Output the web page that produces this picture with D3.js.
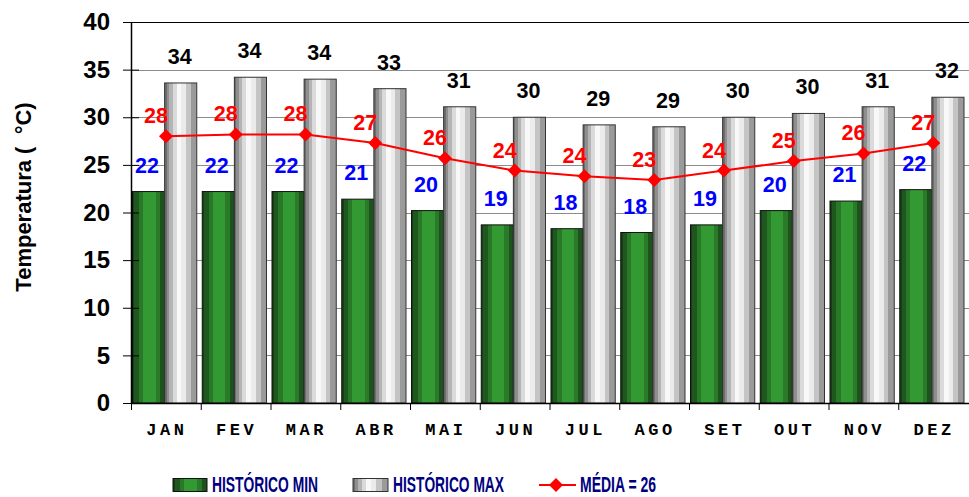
<!DOCTYPE html>
<html>
<head>
<meta charset="utf-8">
<script src="https://cdn.jsdelivr.net/npm/d3@7"></script>
<style>
  html, body { margin: 0; padding: 0; background: #fff; }
  svg { display: block; }
</style>
</head>
<body>
<script>
// Monthly temperatures (°C)
const months = ["JAN", "FEV", "MAR", "ABR", "MAI", "JUN", "JUL", "AGO", "SET", "OUT", "NOV", "DEZ"];
const minValues = [22.2, 22.2, 22.2, 21.4, 20.2, 18.7, 18.3, 17.9, 18.7, 20.2, 21.2, 22.4];
const maxValues = [33.6, 34.2, 34.0, 33.0, 31.1, 30.0, 29.2, 29.0, 30.0, 30.4, 31.1, 32.1];
const meanValues = [28.0, 28.2, 28.2, 27.3, 25.7, 24.4, 23.8, 23.4, 24.4, 25.4, 26.2, 27.3];
const yTicks = [0, 5, 10, 15, 20, 25, 30, 35, 40];
const seriesNames = ["HISTÓRICO MIN", "HISTÓRICO MAX", "MÉDIA"];

const W = 969, H = 497;
const plot = { left: 131, right: 969, top: 22, bottom: 403 };

const svg = d3.select("body").append("svg")
  .attr("width", W).attr("height", H);

// Stepped "cylinder" gradients for the bars
const defs = svg.append("defs");
function steppedGradient(id, bands) {
  const g = defs.append("linearGradient").attr("id", id)
    .attr("x1", "0%").attr("x2", "100%").attr("y1", "0%").attr("y2", "0%");
  bands.forEach(([from, to, color]) => {
    g.append("stop").attr("offset", from).attr("stop-color", color);
    g.append("stop").attr("offset", to).attr("stop-color", color);
  });
}
steppedGradient("gMin", [
  [0.00, 0.06, "#163f16"],
  [0.06, 0.20, "#1e581e"],
  [0.20, 0.33, "#287828"],
  [0.33, 0.72, "#339933"],
  [0.72, 0.85, "#2a7a2a"],
  [0.85, 1.00, "#1d531d"]
]);
steppedGradient("gMax", [
  [0.00, 0.06, "#6e6e6e"],
  [0.06, 0.15, "#8e8e8e"],
  [0.15, 0.25, "#b4b4b4"],
  [0.25, 0.37, "#dadada"],
  [0.37, 0.52, "#f8f8f8"],
  [0.52, 0.67, "#ebebeb"],
  [0.67, 0.82, "#c4c4c4"],
  [0.82, 1.00, "#9a9a9a"]
]);

const x = d3.scaleBand().domain(months).range([plot.left, plot.right - 1]).padding(0);
const y = d3.scaleLinear().domain([0, 40]).range([plot.bottom, plot.top]);
const sub = d3.scaleBand().domain(["min", "max"])
  .range([1.5, x.bandwidth() - 4]).padding(0);

// Horizontal grid
svg.append("g").selectAll("line").data(yTicks.filter(t => t > 0)).join("line")
  .attr("x1", plot.left).attr("x2", plot.right)
  .attr("y1", d => Math.round(y(d)) + 0.5).attr("y2", d => Math.round(y(d)) + 0.5)
  .attr("stroke", d => d === 40 ? "#000" : "#8c8c8c").attr("stroke-width", 1);

// Bars
const groups = svg.append("g").selectAll("g").data(months).join("g")
  .attr("transform", d => `translate(${x(d)},0)`);

groups.append("rect")
  .attr("x", sub("min")).attr("width", sub.bandwidth())
  .attr("y", (d, i) => y(minValues[i]))
  .attr("height", (d, i) => y(0) - y(minValues[i]))
  .attr("fill", "url(#gMin)").attr("stroke", "#111").attr("stroke-width", 1);

groups.append("rect")
  .attr("x", sub("max")).attr("width", sub.bandwidth())
  .attr("y", (d, i) => y(maxValues[i]))
  .attr("height", (d, i) => y(0) - y(maxValues[i]))
  .attr("fill", "url(#gMax)").attr("stroke", "#333").attr("stroke-width", 1);

// Axes
const yAxis = svg.append("g").attr("transform", `translate(${plot.left},0)`)
  .call(d3.axisLeft(y).tickValues(yTicks).tickSize(8).tickPadding(13).tickFormat(d3.format("d")));
yAxis.select(".domain").remove();
yAxis.selectAll(".tick line").attr("x2", 8).attr("x1", -8).attr("stroke", "#000");
yAxis.selectAll("text")
  .attr("font-family", "Liberation Sans, Arial, sans-serif")
  .attr("font-weight", "bold").attr("font-size", 24).attr("fill", "#000");
svg.append("line").attr("x1", plot.left + 0.5).attr("x2", plot.left + 0.5)
  .attr("y1", plot.top).attr("y2", plot.bottom).attr("stroke", "#000").attr("stroke-width", 1.5);

svg.append("line").attr("x1", plot.left).attr("x2", plot.right)
  .attr("y1", plot.bottom + 0.5).attr("y2", plot.bottom + 0.5)
  .attr("stroke", "#000").attr("stroke-width", 1.5);

// Category ticks at band boundaries
svg.append("g").selectAll("line").data(months).join("line")
  .attr("x1", d => x(d) + 0.5).attr("x2", d => x(d) + 0.5)
  .attr("y1", plot.bottom).attr("y2", plot.bottom + 7)
  .attr("stroke", "#000");

// Month labels
svg.append("g").selectAll("text").data(months).join("text")
  .attr("x", d => x(d) + x.bandwidth() / 2 + 1)
  .attr("y", 435)
  .attr("text-anchor", "middle")
  .attr("font-family", "Liberation Mono, Courier New, monospace")
  .attr("font-weight", "bold").attr("font-size", 17)
  .attr("letter-spacing", 3.5)
  .text(d => d);

// Y-axis title
svg.append("text")
  .attr("transform", "translate(31,197) rotate(-90)")
  .attr("text-anchor", "middle")
  .attr("font-family", "Liberation Sans, Arial, sans-serif")
  .attr("font-weight", "bold").attr("font-size", 22)
  .attr("xml:space", "preserve")
  .text("Temperatura (  °C)");

// Mean line
const meanX = d => x(d) + 35;
svg.append("path")
  .datum(months)
  .attr("d", d3.line().x(meanX).y((d, i) => y(meanValues[i])))
  .attr("fill", "none").attr("stroke", "#ff0000").attr("stroke-width", 2);

// Square diamond marker
const diamond = "M0,-7L7,0L0,7L-7,0Z";
svg.append("g").selectAll("path").data(months).join("path")
  .attr("transform", (d, i) => `translate(${meanX(d)},${y(meanValues[i])})`)
  .attr("d", diamond).attr("fill", "#ff0000");

// Value labels
const fmt = d3.format(".0f");
const labelFont = sel => sel
  .attr("font-family", "Liberation Sans, Arial, sans-serif")
  .attr("font-weight", "bold").attr("font-size", 21.5)
  .attr("text-anchor", "middle");

svg.append("g").selectAll("text").data(months).join("text")
  .call(labelFont)
  .attr("x", d => x(d) + sub("max") + sub.bandwidth() / 2 - 1)
  .attr("y", (d, i) => y(maxValues[i]) - 19)
  .attr("fill", "#000")
  .text((d, i) => fmt(maxValues[i]));

svg.append("g").selectAll("text").data(months).join("text")
  .call(labelFont)
  .attr("x", d => x(d) + sub("min") + sub.bandwidth() / 2 - 1.5)
  .attr("y", (d, i) => y(minValues[i]) - 19)
  .attr("fill", "#0000ff")
  .text((d, i) => fmt(minValues[i]));

svg.append("g").selectAll("text").data(months).join("text")
  .call(labelFont)
  .attr("x", d => meanX(d) - 10)
  .attr("y", (d, i) => y(meanValues[i]) - 13)
  .attr("fill", "#ff0000")
  .text((d, i) => fmt(meanValues[i]));

// Legend
const legend = svg.append("g");
const legendText = (xPos, txt, len) => legend.append("text")
  .attr("x", xPos).attr("y", 492)
  .attr("font-family", "Liberation Sans Narrow, Arial Narrow, Liberation Sans, Arial, sans-serif")
  .attr("font-weight", "bold").attr("font-size", 22)
  .attr("fill", "#000080")
  .attr("textLength", len).attr("lengthAdjust", "spacingAndGlyphs")
  .text(txt);

legend.append("rect").attr("x", 173).attr("y", 478.5).attr("width", 34).attr("height", 13)
  .attr("fill", "url(#gMin)").attr("stroke", "#111");
legendText(212, seriesNames[0], 106);

legend.append("rect").attr("x", 353).attr("y", 478.5).attr("width", 35).attr("height", 13)
  .attr("fill", "url(#gMax)").attr("stroke", "#333");
legendText(393, seriesNames[1], 111);

legend.append("line").attr("x1", 539).attr("x2", 576).attr("y1", 485).attr("y2", 485)
  .attr("stroke", "#ff0000").attr("stroke-width", 2);
legend.append("path").attr("transform", "translate(556,485)").attr("d", diamond).attr("fill", "#ff0000");
legendText(580, `${seriesNames[2]} = ${fmt(d3.mean(meanValues))}`, 76);
</script>
</body>
</html>
